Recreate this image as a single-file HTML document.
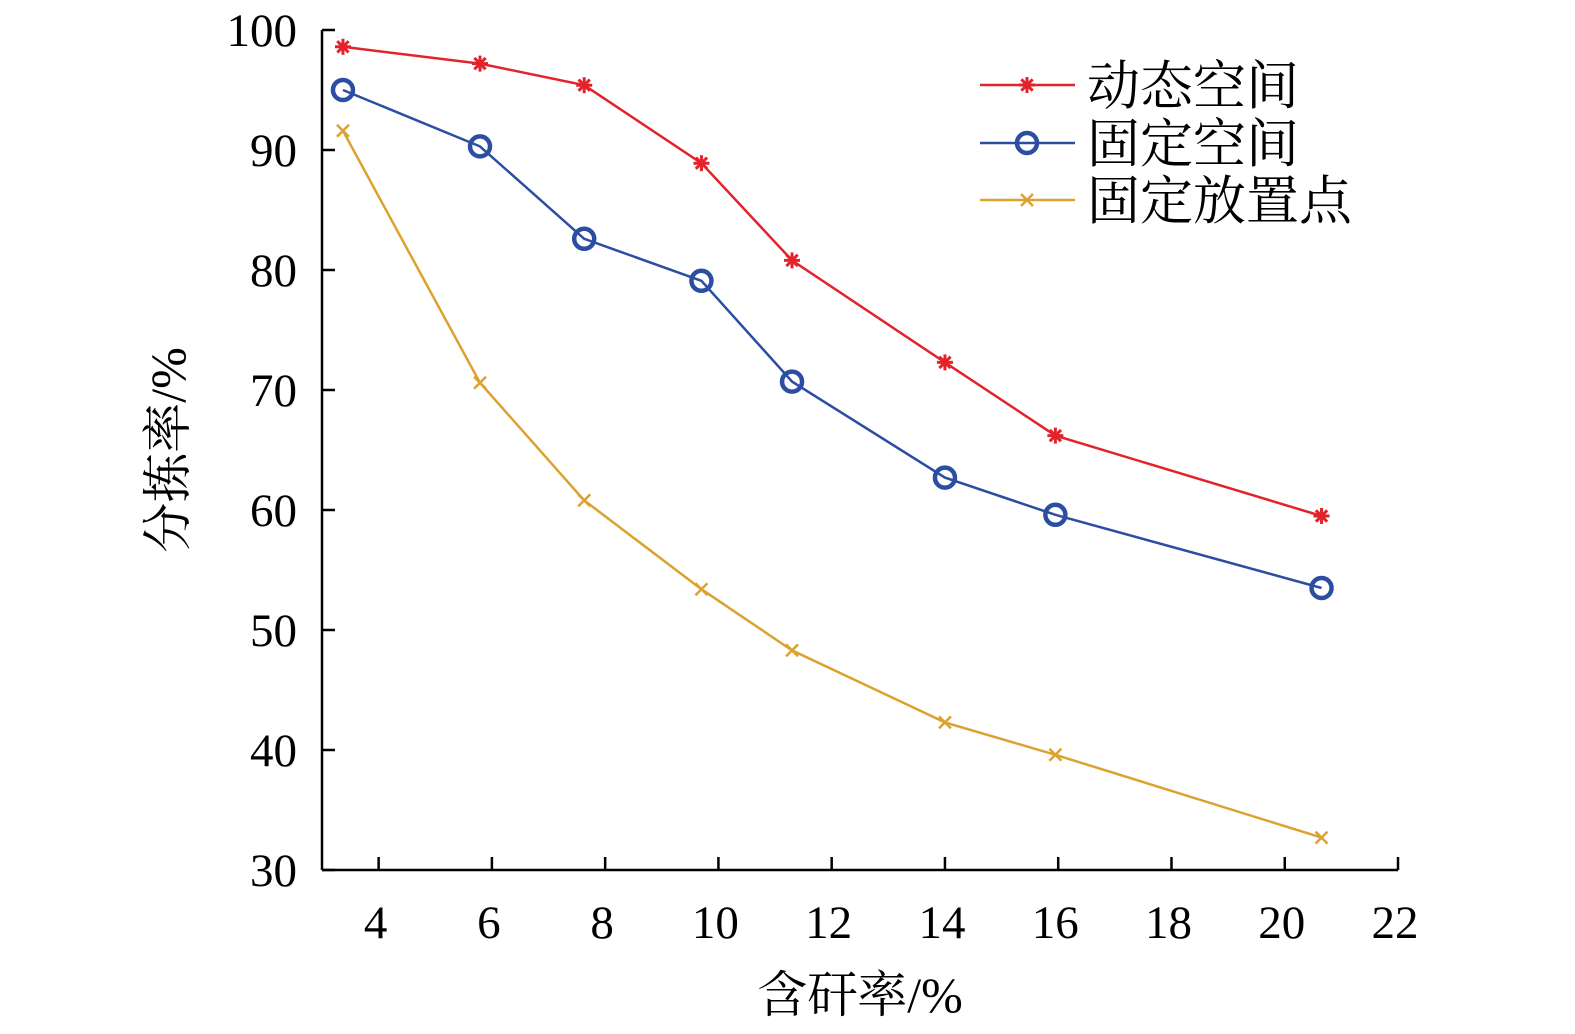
<!DOCTYPE html>
<html><head><meta charset="utf-8">
<style>
html,body{margin:0;padding:0;background:#fff;}
svg{display:block;font-family:"Liberation Serif","Noto Serif CJK SC","Noto Sans CJK SC",serif;}
</style></head>
<body>
<svg id="chart" width="1575" height="1034" viewBox="0 0 1575 1034" xmlns="http://www.w3.org/2000/svg"></svg>
<script>
const xValues = [3.37, 5.79, 7.63, 9.70, 11.3, 14.0, 15.95, 20.65];
const dynamicSpace = [98.6, 97.2, 95.4, 88.9, 80.8, 72.3, 66.2, 59.5];
const fixedSpace = [95.0, 90.3, 82.6, 79.1, 70.7, 62.7, 59.6, 53.5];
const fixedPoint = [91.6, 70.6, 60.8, 53.4, 48.3, 42.3, 39.6, 32.7];
const xTicks = [4, 6, 8, 10, 12, 14, 16, 18, 20, 22];
const yTicks = [30, 40, 50, 60, 70, 80, 90, 100];

const NS = "http://www.w3.org/2000/svg";
const svg = document.getElementById('chart');
const X0 = 322, X1 = 1398, Y0 = 870, Y1 = 30;
const xs = v => X0 + (v - 3) / 19 * (X1 - X0);
const ys = v => Y0 - (v - 30) / 70 * (Y0 - Y1);
function mk(tag, attrs, parent) {
  const e = document.createElementNS(NS, tag);
  for (const k in attrs) e.setAttribute(k, attrs[k]);
  (parent || svg).appendChild(e);
  return e;
}
const axes = mk('g', {});


mk('line', {x1: X0, y1: Y1, x2: X0, y2: Y0, stroke: '#000', 'stroke-width': 2.5}, axes);
mk('line', {x1: X0, y1: Y0, x2: X1, y2: Y0, stroke: '#000', 'stroke-width': 2.5}, axes);
yTicks.forEach(t => {
  const y = ys(t);
  mk('line', {x1: X0, y1: y, x2: X0 + 13, y2: y, stroke: '#000', 'stroke-width': 2.5}, axes);
  const tx = mk('text', {x: 297, y: y + 16, 'text-anchor': 'end', 'font-size': 47}, axes);
  
  
  tx.textContent = t;
});
xTicks.forEach(t => {
  const x = xs(t);
  mk('line', {x1: x, y1: Y0, x2: x, y2: Y0 - 13, stroke: '#000', 'stroke-width': 2.5}, axes);
  const tx = mk('text', {x: x - 3, y: 938, 'text-anchor': 'middle', 'font-size': 47}, axes);
  
  
  tx.textContent = t;
});
const xt = mk('text', {x: 860, y: 1012, 'text-anchor': 'middle', 'font-size': 50});


xt.textContent = '含矸率/%';
const yt = mk('text', {x: 0, y: 0, 'text-anchor': 'middle', 'font-size': 50, transform: 'translate(185,450) rotate(-90)'});


yt.textContent = '分拣率/%';

function marker(type, x, y, color, g) {
  if (type === 'star') {
    for (let a = 0; a < 4; a++) {
      const ang = a * Math.PI / 4, r = 8;
      mk('line', {x1: x - r*Math.cos(ang), y1: y - r*Math.sin(ang), x2: x + r*Math.cos(ang), y2: y + r*Math.sin(ang), stroke: color, 'stroke-width': 3}, g);
    }
  } else if (type === 'circle') {
    mk('circle', {cx: x, cy: y, r: 10, fill: 'none', stroke: color, 'stroke-width': 4.5}, g);
  } else {
    const r = 6;
    mk('line', {x1: x-r, y1: y-r, x2: x+r, y2: y+r, stroke: color, 'stroke-width': 2.5}, g);
    mk('line', {x1: x-r, y1: y+r, x2: x+r, y2: y-r, stroke: color, 'stroke-width': 2.5}, g);
  }
}
const series = [
  {name: 'series-dynamic-space', data: dynamicSpace, color: '#e3232c', m: 'star', label: '动态空间', ly: 85},
  {name: 'series-fixed-space', data: fixedSpace, color: '#2b4ea2', m: 'circle', label: '固定空间', ly: 143},
  {name: 'series-fixed-point', data: fixedPoint, color: '#dba22f', m: 'x', label: '固定放置点', ly: 200}
];
series.forEach(s => {
  const g = mk('g', {});
  
  
  const pts = s.data.map((v, i) => xs(xValues[i]) + ',' + ys(v)).join(' ');
  mk('polyline', {points: pts, fill: 'none', stroke: s.color, 'stroke-width': 2.5}, g);
  s.data.forEach((v, i) => marker(s.m, xs(xValues[i]), ys(v), s.color, g));
  const lg = mk('g', {});
  
  
  mk('line', {x1: 980, y1: s.ly, x2: 1075, y2: s.ly, stroke: s.color, 'stroke-width': 2.5}, lg);
  marker(s.m, 1027, s.ly, s.color, lg);
  const t = mk('text', {x: 1087, y: s.ly + 19, 'font-size': 53}, lg);
  t.textContent = s.label;
});
</script>
</body></html>
